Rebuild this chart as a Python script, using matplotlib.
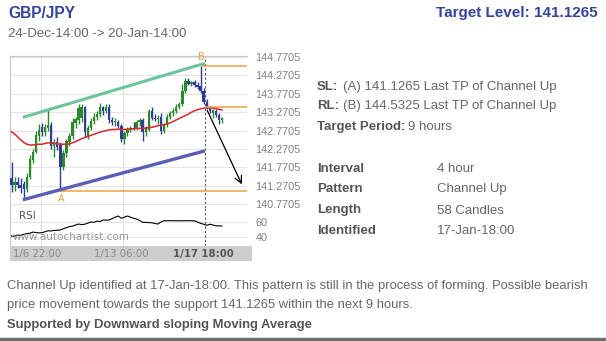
import numpy as np
import matplotlib.pyplot as plt
from matplotlib.patches import Rectangle

W, H = 606, 341

# 4-hour candles, index 0 .. 69
opens = [141.48, 141.30, 141.38, 141.30, 141.32, 141.18, 141.50, 141.98, 142.20, 142.62,
         142.88, 142.72, 142.85, 142.92, 142.35, 142.45, 142.38, 141.78, 142.15, 142.45,
         142.62, 142.98, 143.05, 143.10, 143.40, 142.62, 142.85, 143.02, 143.15, 143.22,
         143.40, 143.30, 143.42, 143.05, 143.00, 143.00, 142.90, 142.55, 142.70, 142.80,
         142.85, 142.82, 143.00, 143.05, 142.72, 142.80, 143.30, 143.12, 143.08, 143.15,
         142.75, 142.92, 143.15, 143.25, 143.30, 143.40, 143.50, 143.85, 144.12, 144.05,
         144.10, 144.02, 143.98, 143.85, 143.55, 143.40, 143.25, 143.30, 143.20, 143.05]
highs = [141.92, 141.50, 141.52, 141.48, 141.40, 141.62, 142.10, 142.28, 142.75, 142.95,
         142.98, 142.95, 143.33, 143.00, 142.55, 142.60, 142.45, 142.25, 142.55, 142.70,
         143.10, 143.15, 143.50, 143.50, 143.45, 142.92, 143.10, 143.25, 143.30, 143.52,
         143.45, 143.48, 143.48, 143.15, 143.10, 143.05, 142.95, 142.75, 142.88, 142.90,
         143.00, 143.05, 143.12, 143.10, 142.90, 143.35, 143.42, 143.22, 143.20, 143.25,
         142.98, 143.22, 143.30, 143.38, 143.48, 143.55, 144.05, 144.20, 144.20, 144.12,
         144.15, 144.10, 144.5325, 143.92, 143.62, 143.45, 143.35, 143.35, 143.25, 143.15]
lows = [141.10, 141.12, 141.20, 141.08, 140.90, 141.10, 141.45, 141.90, 142.15, 142.50,
        142.62, 142.62, 142.75, 142.28, 142.05, 142.25, 141.1265, 141.70, 142.05, 142.35,
        142.55, 142.85, 142.95, 143.00, 142.60, 142.55, 142.78, 142.95, 143.05, 143.15,
        143.20, 143.25, 142.98, 142.92, 142.90, 142.85, 142.45, 142.40, 142.62, 142.72,
        142.78, 142.78, 142.90, 142.50, 142.62, 142.75, 143.05, 143.02, 142.95, 142.68,
        142.70, 142.88, 143.08, 143.18, 143.25, 143.35, 143.45, 143.80, 144.00, 143.98,
        143.95, 143.90, 143.80, 143.50, 143.35, 143.25, 143.10, 143.15, 142.95, 142.98]
closes = [141.30, 141.38, 141.30, 141.20, 141.18, 141.52, 142.00, 142.20, 142.65, 142.78,
          142.72, 142.88, 142.92, 142.35, 142.45, 142.32, 141.78, 142.15, 142.48, 142.62,
          143.00, 143.08, 143.38, 143.40, 142.73, 142.85, 143.02, 143.15, 143.22, 143.40,
          143.30, 143.42, 143.05, 143.00, 143.02, 142.90, 142.55, 142.70, 142.80, 142.85,
          142.82, 143.00, 143.05, 142.72, 142.85, 143.30, 143.12, 143.08, 143.10, 142.75,
          142.92, 143.15, 143.25, 143.30, 143.42, 143.50, 143.85, 144.12, 144.05, 144.08,
          144.02, 143.95, 143.85, 143.55, 143.40, 143.30, 143.32, 143.20, 143.05, 143.10]

moving_avg = [142.74, 142.68, 142.60, 142.52, 142.45, 142.40, 142.38, 142.38, 142.39, 142.40,
              142.40, 142.42, 142.44, 142.43, 142.42, 142.41, 142.40, 142.40, 142.40, 142.41,
              142.44, 142.47, 142.51, 142.55, 142.58, 142.61, 142.64, 142.67, 142.70, 142.73,
              142.75, 142.77, 142.79, 142.80, 142.80, 142.81, 142.80, 142.80, 142.81, 142.82,
              142.82, 142.83, 142.83, 142.83, 142.84, 142.85, 142.86, 142.88, 142.90, 142.92,
              142.93, 142.95, 142.98, 143.02, 143.06, 143.10, 143.14, 143.18, 143.22, 143.27,
              143.31, 143.34, 143.36, 143.38, 143.39, 143.39, 143.38, 143.37, 143.35, 143.33]

rsi = [41.3, 41.0, 42.5, 42.0, 43.5, 44.5, 45.0, 46.5, 46.0, 45.5,
       45.8, 47.0, 48.4, 48.0, 48.8, 49.0, 49.3, 51.0, 52.5, 53.8,
       54.5, 56.0, 57.3, 56.5, 57.0, 58.5, 60.0, 59.5, 61.3, 60.5,
       62.7, 62.5, 62.7, 64.5, 66.5, 68.0, 65.0, 66.5, 68.0, 66.5,
       65.0, 64.0, 62.0, 59.6, 59.5, 59.2, 59.0, 58.0, 57.3, 60.0,
       61.7, 61.7, 61.8, 61.7, 61.7, 61.6, 61.7, 61.7, 61.8, 61.7,
       61.5, 60.0, 58.2, 57.0, 55.6, 57.0, 56.0, 55.0, 54.8, 54.7]

price_levels = [144.7705, 144.2705, 143.7705, 143.2705, 142.7705,
                142.2705, 141.7705, 141.2705, 140.7705]
rsi_levels = [60, 40]
time_pos = [9.7, 36.5, 63.4]
time_labels = ['1/6 22:00', '1/13 06:00', '1/17 18:00']

# pattern
channel_x = [3.7, 63.4]
channel_upper = [143.13, 144.60]
channel_lower = [140.89, 142.22]
point_a = (16.2, 141.1265)
point_b = (62.3, 144.5325)
mid_level = (64.0, 143.41)
arrow_start = (63.8, 143.385)
arrow_end = (75.9, 141.24)

GREEN = '#2a8a2a'
BLUE = '#2f3d9a'
ORANGE = '#f0a040'
GRID = '#e4e4e4'
TITLE = '#35439a'

plt.rcParams['font.family'] = ['Liberation Sans', 'DejaVu Sans']
fig = plt.figure(figsize=(W / 100, H / 100), dpi=100)


def box(x0, y0, x1, y1):
    return [x0 / W, 1 - y1 / H, (x1 - x0) / W, (y1 - y0) / H]


def ftext(x, y, s, **kw):
    fig.text(x / W, 1 - y / H, s, va='center', **kw)


xmax = 237 / 3.05 - 0.5

# ---- price panel ----
ax = fig.add_axes(box(10, 56, 247, 208))
ax.set_xlim(-0.5, xmax)
ax.set_ylim(140.667, 144.7977)
for lv in price_levels:
    ax.axhline(lv, color=GRID, lw=0.8, zorder=0)
for xp in time_pos[:2]:
    ax.axvline(xp, color=GRID, lw=0.8, zorder=0)
ax.axvline(time_pos[2], color='#555555', lw=0.8, ls=(0, (2, 2)), zorder=1)

idx = np.arange(len(opens))
for i in idx:
    o, c = opens[i], closes[i]
    col = GREEN if c >= o else BLUE
    ax.vlines(i, lows[i], highs[i], color=col, lw=1.0, zorder=3)
    ax.bar(i, max(abs(c - o), 0.02), bottom=min(o, c), width=0.8,
           color=col, lw=0, zorder=3)

ax.plot(idx, moving_avg, color='#d9262a', lw=1.1, zorder=4)
ax.plot(channel_x, channel_upper, color='#6cc49a', lw=2.2, zorder=5,
        solid_capstyle='butt')
ax.plot(channel_x, channel_lower, color='#5a5db5', lw=2.4, zorder=5,
        solid_capstyle='butt')
ax.plot([point_a[0], xmax], [point_a[1]] * 2, color=ORANGE, lw=1.1, zorder=4)
ax.plot([point_b[0], xmax], [point_b[1]] * 2, color=ORANGE, lw=1.1, zorder=4)
ax.plot([mid_level[0], xmax], [mid_level[1]] * 2, color=ORANGE, lw=1.1, zorder=4)
ax.annotate('', xy=arrow_end, xytext=arrow_start,
            arrowprops=dict(arrowstyle='->,head_length=0.5,head_width=0.25',
                            color='black', lw=0.9), zorder=6)
ax.text(point_a[0], 140.91, 'A', color=ORANGE, fontsize=7, ha='center',
        va='center', family='DejaVu Sans')
ax.text(point_b[0], 144.77, 'B', color=ORANGE, fontsize=7, ha='center',
        va='center', family='DejaVu Sans')

ax.yaxis.tick_right()
ax.set_yticks(price_levels)
ax.set_yticklabels(['%.4f' % v for v in price_levels])
ax.tick_params(axis='y', length=0, pad=6, labelsize=7.8, labelcolor='#808080')
ax.set_xticks([])
for s in ['right', 'bottom']:
    ax.spines[s].set_visible(False)
for s in ['left', 'top']:
    ax.spines[s].set_color('#c8c8c8')
    ax.spines[s].set_linewidth(0.8)

# ---- RSI panel ----
ar = fig.add_axes(box(10, 208, 247, 246))
ar.set_xlim(-0.5, xmax)
ar.set_ylim(28, 78.67)
for lv in rsi_levels:
    ar.axhline(lv, color=GRID, lw=0.8, zorder=0)
for xp in time_pos[:2]:
    ar.axvline(xp, color=GRID, lw=0.8, zorder=0)
ar.axvline(time_pos[2], color='#555555', lw=0.8, ls=(0, (2, 2)), zorder=1)
ar.plot(idx, rsi, color='black', lw=0.8, zorder=3)
ar.text(2.4, 68, 'RSI', fontsize=7.5, color='#555555', va='center',
        family='DejaVu Sans')
ar.text(0.2, 40, 'www.autochartist.com', fontsize=7.5, color='#8a8a8a',
        va='center', family='DejaVu Sans', alpha=0.9)
ar.yaxis.tick_right()
ar.set_yticks(rsi_levels)
ar.tick_params(axis='y', length=0, pad=6, labelsize=7.8, labelcolor='#808080')
ar.set_xticks([])
for s in ['right', 'bottom', 'top']:
    ar.spines[s].set_visible(False)
ar.spines['left'].set_color('#c8c8c8')
ar.spines['left'].set_linewidth(0.8)

# ---- time band ----
ab = fig.add_axes(box(10, 246, 252, 261))
ab.set_xlim(-0.5, 242 / 3.05 - 0.5)
ab.set_ylim(0, 1)
ab.set_facecolor('#cdcdcd')
for s in ab.spines.values():
    s.set_visible(False)
ab.set_xticks([])
ab.set_yticks([])
for k, (xp, lab) in enumerate(zip(time_pos, time_labels)):
    bold = k == len(time_labels) - 1
    ab.text(xp - (1.3 if k == 0 else 0.4), 0.5, lab, ha='center', va='center',
            fontsize=7.3, family='DejaVu Sans',
            fontweight='bold' if bold else 'normal',
            color='#555555' if bold else '#8a8a8a')

# ---- header ----
ftext(8, 13, 'GBP/JPY', fontsize=11.2, fontweight='bold', color=TITLE)
ftext(598, 13, 'Target Level: 141.1265', fontsize=11, fontweight='bold',
      color=TITLE, ha='right')
ftext(8, 34, '24-Dec-14:00 -> 20-Jan-14:00', fontsize=9.5, color='#666666')

# ---- details ----
LBL = '#555555'
VAL = '#666666'
ftext(317, 87, 'SL:', fontsize=9.5, fontweight='bold', color=LBL)
ftext(342.7, 87, '(A) 141.1265 Last TP of Channel Up', fontsize=9.5, color=VAL)
ftext(317, 106, 'RL:', fontsize=9.5, fontweight='bold', color=LBL)
ftext(342.7, 106, '(B) 144.5325 Last TP of Channel Up', fontsize=9.5, color=VAL)
ftext(317, 127, 'Target Period:', fontsize=9.5, fontweight='bold', color=LBL)
ftext(408, 127, '9 hours', fontsize=9.5, color=VAL)

info_labels = ['Interval', 'Pattern', 'Length', 'Identified']
info_values = ['4 hour', 'Channel Up', '58 Candles', '17-Jan-18:00']
for k, (lab, val) in enumerate(zip(info_labels, info_values)):
    y = 168.5 + k * 21
    ftext(317, y, lab, fontsize=9.5, fontweight='bold', color=LBL)
    ftext(437, y, val, fontsize=9.5, color=VAL)

# ---- footer ----
ftext(7, 286, 'Channel Up identified at 17-Jan-18:00. This pattern is still in the '
      'process of forming. Possible bearish', fontsize=9.35, color=VAL)
ftext(7, 305, 'price movement towards the support 141.1265 within the next 9 hours.',
      fontsize=9.35, color=VAL)
ftext(7, 325, 'Supported by Downward sloping Moving Average', fontsize=9.35,
      fontweight='bold', color=LBL)
fig.patches.append(Rectangle((0, 1 - 340.5 / H), 1, 2.5 / H,
                             transform=fig.transFigure, color='#6e6e6e'))

fig.savefig('out.png', dpi=100)
